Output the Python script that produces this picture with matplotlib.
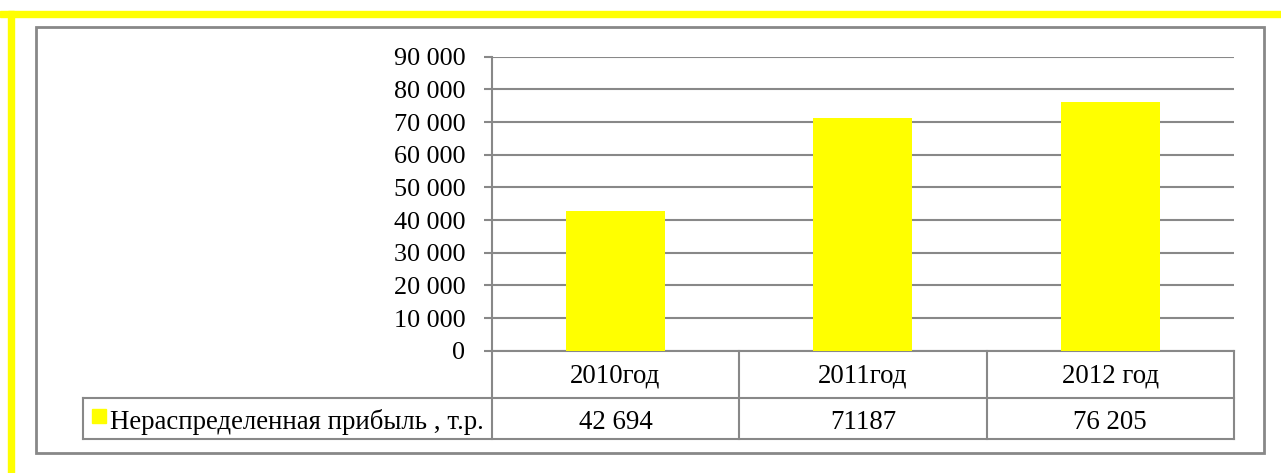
import matplotlib
matplotlib.use('Agg')
import matplotlib.pyplot as plt
from matplotlib.patches import Rectangle
from matplotlib.lines import Line2D

# Data
years = ['2010год', '2011год', '2012 год']
profit = [42694, 71187, 76205]
value_labels = ['42 694', '71187', '76 205']
series_name = 'Нераспределенная прибыль , т.р.'
yticks = list(range(0, 90001, 10000))

W, H = 1281, 473
plt.rcParams['font.family'] = ['Liberation Serif', 'DejaVu Serif']
fig = plt.figure(figsize=(W / 100, H / 100), dpi=100)

def fx(x):
    return x / W

def fy(y):
    return 1 - y / H

GRAY = '#888888'
YEL = '#ffff00'
TICK_FS = 18.8
TABLE_FS = 19.4

# yellow bands (top and left)
fig.patches.append(Rectangle((fx(0), fy(17)), 1, 6 / H, color=YEL, transform=fig.transFigure))
fig.patches.append(Rectangle((fx(8), 0), 6 / W, fy(11), color=YEL, transform=fig.transFigure))
# gray chart frame
fig.patches.append(Rectangle((fx(36), fy(453.3)), (1263.5 - 36) / W, (453.3 - 27.5) / H,
                             fill=False, ec=GRAY, lw=2, transform=fig.transFigure))

# plot area
x0, x1, y_top, y_zero = 491.7, 1234, 56.7, 350.7
ax = fig.add_axes([fx(x0), fy(y_zero), (x1 - x0) / W, (y_zero - y_top) / H])
ax.bar(range(len(years)), profit, width=0.4, color=YEL, zorder=3)
ax.set_xlim(-0.5, len(years) - 0.5)
ax.set_ylim(0, 90000)
ax.set_yticks(yticks)
ax.set_yticklabels([f'{v:,}'.replace(',', ' ') for v in yticks], fontsize=TICK_FS)
ax.yaxis.grid(True, color=GRAY, lw=1.5)
ax.set_axisbelow(True)
ax.tick_params(axis='y', length=6, width=1.5, color=GRAY, pad=13)
ax.set_xticks([])
for s in ['top', 'right']:
    ax.spines[s].set_visible(False)
for s in ['left', 'bottom']:
    ax.spines[s].set_color(GRAY)
    ax.spines[s].set_linewidth(1.5)

# data table below the axis
row_mid, row_bot = 398.3, 439.3
legend_left = 82.7
col_edges = [x0 + (x1 - x0) * i / len(years) for i in range(len(years) + 1)]

def hline(y, xa, xb):
    fig.add_artist(Line2D([fx(xa), fx(xb)], [fy(y), fy(y)], color=GRAY, lw=1.5,
                          transform=fig.transFigure))

def vline(x, ya, yb):
    fig.add_artist(Line2D([fx(x), fx(x)], [fy(ya), fy(yb)], color=GRAY, lw=1.5,
                          transform=fig.transFigure))

hline(row_mid, legend_left, x1)
hline(row_bot, legend_left, x1)
vline(legend_left, row_mid, row_bot)
for xe in col_edges:
    vline(xe, y_zero, row_bot)

base1, base2 = 382.3, 429
for i, (yr, lab) in enumerate(zip(years, value_labels)):
    cx = (col_edges[i] + col_edges[i + 1]) / 2
    fig.text(fx(cx), fy(base1), yr, ha='center', va='baseline', fontsize=TABLE_FS)
    fig.text(fx(cx), fy(base2), lab, ha='center', va='baseline', fontsize=TABLE_FS)

# legend key in the table
fig.patches.append(Rectangle((fx(92), fy(422.7)), 13.7 / W, 13.7 / H, color=YEL,
                             transform=fig.transFigure))
fig.text(fx(110), fy(base2), series_name, ha='left', va='baseline', fontsize=TABLE_FS)

fig.savefig('out.png', dpi=100)
